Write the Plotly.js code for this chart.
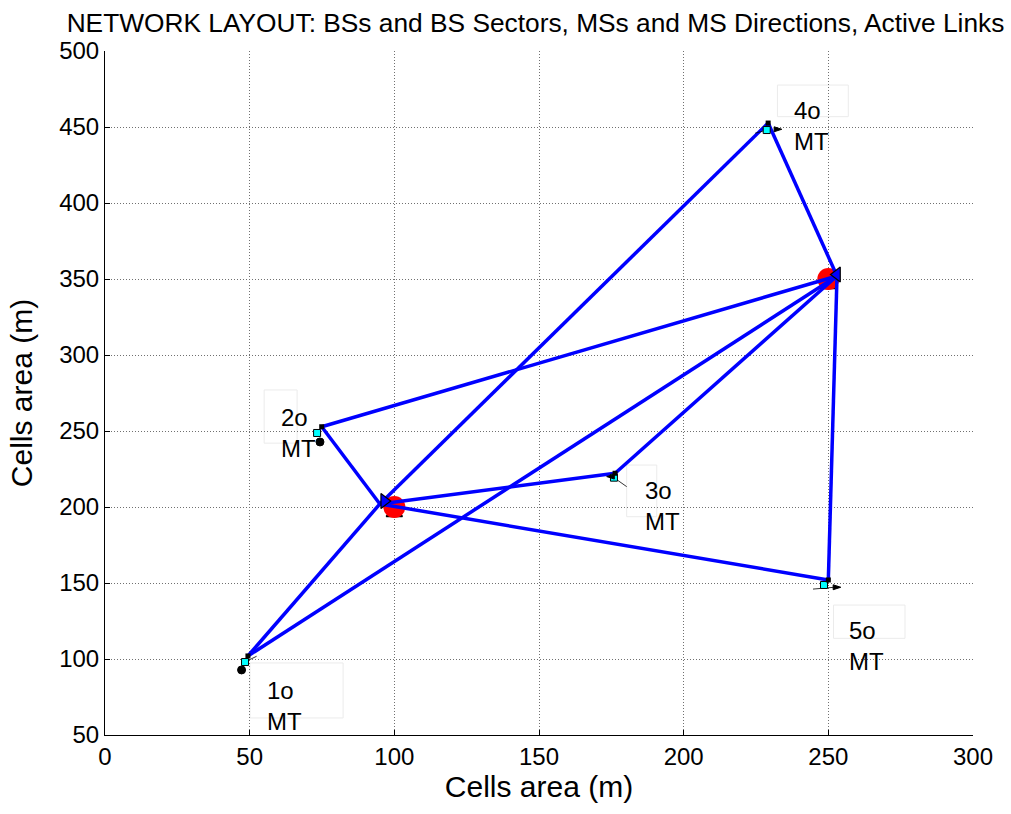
<!DOCTYPE html>
<html>
<head>
<meta charset="utf-8">
<script src="https://cdn.plot.ly/plotly-3.0.1.min.js"></script>
<style>html,body{margin:0;padding:0;background:#fff;}#plot{width:1011px;height:814px;}</style>
</head>
<body>
<div id="plot"></div>
<script>
// Base stations
const bsX = [100, 250];
const bsY = [200, 350];
// Link anchor points at the base stations (sector antennas)
const bsLinkX = [95, 253];
const bsLinkY = [202, 352];
// Base-station sector markers
const sectorX = [96.5, 253];
const sectorY = [204, 353];
// Hidden BS base markers (under the circles)
const bsBaseX = [100, 250];
const bsBaseY = [196, 346];

// Mobile stations
const msNames = ['1o', '2o', '3o', '4o', '5o'];
const msX = [48.4, 73.3, 175.9, 228.7, 248.5];
const msY = [98, 248.7, 219.3, 448, 148.7];
// MS link end points
const msLinkX = [49.4, 74.9, 176.3, 229.2, 250.0];
const msLinkY = [102, 252.8, 222.2, 452.6, 152];
// MS direction markers
const dirX = [47.2, 74.3, 173.4, 233.9, 254.3];
const dirY = [92.8, 242.8, 220, 448.5, 147.2];
const dirSymbols = ['circle', 'circle', 'arrow', 'arrow', 'arrow'];
const dirAngles = [0, 0, -90, 90, 90];
// thin direction strokes (start/end)
const strokeX0 = [47.8, 175.9, 228.7, 244.7];
const strokeY0 = [97.5, 219.3, 448, 146];
const strokeX1 = [52.4, 180.3, 224.7, 253.4];
const strokeY1 = [101.8, 213.4, 445.9, 147.4];

// Label positions
const labelX = [55.3, 60.1, 186.1, 237.3, 256.6];
const labelY = [69.1, 249, 200.7, 450.7, 108.6];
const labelSuffix = 'MT';
// faint label boxes [x0, x1, y0, y1]
const boxX0 = [50.1, 55.0, 180.3, 232.4, 251.8];
const boxX1 = [82.3, 66.4, 190.7, 256.9, 276.5];
const boxY0 = [61.2, 242, 193.6, 456.8, 113.6];
const boxY1 = [97.4, 277, 227.6, 477.6, 135.5];

const xTicks = [0, 50, 100, 150, 200, 250, 300];
const yTicks = [50, 100, 150, 200, 250, 300, 350, 400, 450, 500];

const FONT = 'Liberation Sans, Arial, Helvetica, sans-serif';

// Build links: every MS linked to every BS
const linkX = [], linkY = [];
for (let i = 0; i < msX.length; i++) {
  for (let j = 0; j < bsX.length; j++) {
    linkX.push(bsLinkX[j], msLinkX[i], null);
    linkY.push(bsLinkY[j], msLinkY[i], null);
  }
}
const strokeX = [], strokeY = [];
for (let i = 0; i < strokeX0.length; i++) {
  strokeX.push(strokeX0[i], strokeX1[i], null);
  strokeY.push(strokeY0[i], strokeY1[i], null);
}

const traces = [
  { x: bsBaseX, y: bsBaseY, mode: 'markers', type: 'scatter',
    marker: { symbol: 'triangle-up', size: 14, color: '#ff0000', line: { color: '#000', width: 1.5 } }, hoverinfo: 'skip' },
  { x: bsX, y: bsY, mode: 'markers', type: 'scatter', name: 'BS',
    marker: { symbol: 'circle', size: 22, color: '#ff0000', line: { width: 0 } } },
  { x: linkX, y: linkY, mode: 'lines', type: 'scatter', name: 'Links',
    line: { color: '#0000ff', width: 3.5 } },
  { x: strokeX, y: strokeY, mode: 'lines', type: 'scatter',
    line: { color: '#000', width: 0.8 }, hoverinfo: 'skip' },
  { x: sectorX, y: sectorY, mode: 'markers', type: 'scatter', name: 'Sectors',
    marker: { symbol: ['triangle-right', 'triangle-left'], size: 13, color: '#0000ff', line: { color: '#000', width: 1.2 } } },
  { x: msX, y: msY, mode: 'markers', type: 'scatter', name: 'MS',
    marker: { symbol: 'square', size: 7, color: '#00ffff', line: { color: '#000', width: 1 } } },
  { x: msLinkX, y: msLinkY, mode: 'markers', type: 'scatter',
    marker: { symbol: 'square', size: 5, color: '#000' }, hoverinfo: 'skip' },
  { x: dirX, y: dirY, mode: 'markers', type: 'scatter', name: 'Directions',
    marker: { symbol: dirSymbols, angle: dirAngles, size: 8, color: '#000', line: { color: '#000', width: 1 } } }
];

const annotations = msNames.map((n, i) => ({
  x: labelX[i], y: labelY[i], xref: 'x', yref: 'y',
  text: n + '<br>' + labelSuffix, showarrow: false,
  xanchor: 'left', yanchor: 'middle', align: 'left',
  font: { family: FONT, size: 24, color: '#000' }
}));

const shapes = msNames.map((n, i) => ({
  type: 'rect', xref: 'x', yref: 'y',
  x0: boxX0[i], x1: boxX1[i], y0: boxY0[i], y1: boxY1[i],
  line: { color: '#ebebeb', width: 1 }, fillcolor: 'rgba(0,0,0,0)', layer: 'below'
}));

const layout = {
  width: 1011, height: 814,
  margin: { l: 105, r: 38, t: 51, b: 79, pad: 0 },
  paper_bgcolor: '#ffffff', plot_bgcolor: '#ffffff',
  showlegend: false,
  font: { family: FONT, color: '#000' },
  title: {
    text: 'NETWORK LAYOUT: BSs and BS Sectors, MSs and MS Directions, Active Links',
    font: { family: FONT, size: 26.3, color: '#000' },
    x: 535.5 / 1011, xref: 'container', xanchor: 'center',
    y: 1 - 22.5 / 814, yref: 'container', yanchor: 'middle'
  },
  xaxis: {
    range: [0, 300], tickvals: xTicks, ticktext: xTicks.map(String),
    showgrid: true, gridcolor: '#707070', griddash: '1px,2px', gridwidth: 1,
    zeroline: false, showline: true, linecolor: '#000', linewidth: 1,
    ticks: 'inside', ticklen: 5, tickcolor: '#000',
    tickfont: { family: FONT, size: 24, color: '#000' },
    title: { text: 'Cells area (m)', font: { family: FONT, size: 30, color: '#000' }, standoff: 7 }
  },
  yaxis: {
    range: [50, 500], tickvals: yTicks, ticktext: yTicks.map(String),
    showgrid: true, gridcolor: '#707070', griddash: '1px,2px', gridwidth: 1,
    zeroline: false, showline: true, linecolor: '#000', linewidth: 1,
    ticks: 'inside', ticklen: 5, tickcolor: '#000',
    tickfont: { family: FONT, size: 24, color: '#000' },
    title: { text: 'Cells area (m)', font: { family: FONT, size: 30, color: '#000' }, standoff: 17 }
  },
  annotations: annotations,
  shapes: shapes
};

Plotly.newPlot('plot', traces, layout, { displayModeBar: false, staticPlot: true });
</script>
</body>
</html>
